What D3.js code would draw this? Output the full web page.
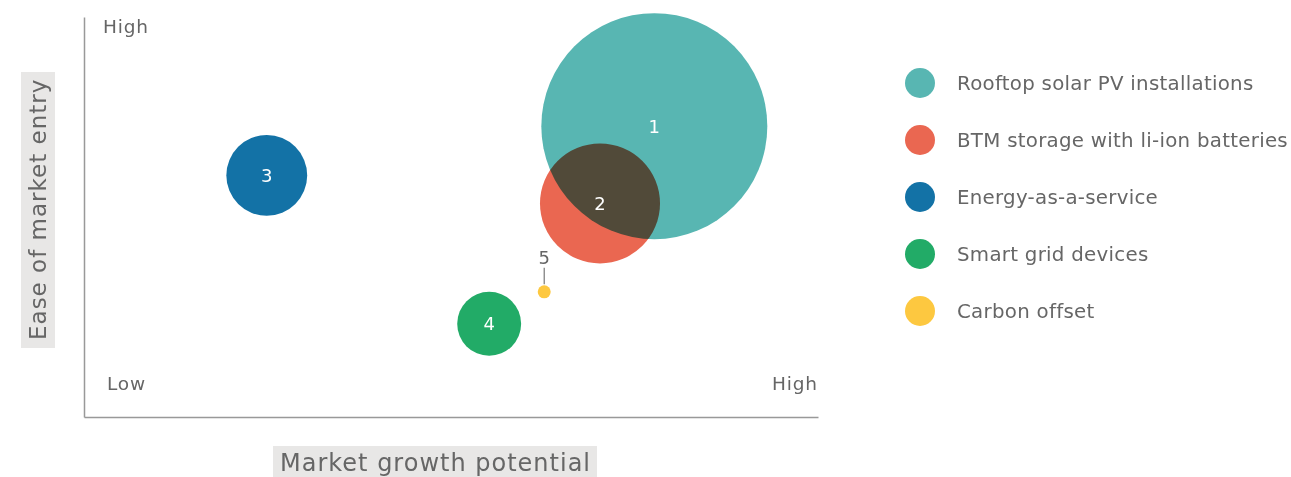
<!DOCTYPE html>
<html>
<head>
<meta charset="utf-8">
<script src="https://cdn.jsdelivr.net/npm/d3@7"></script>
<style>
  html, body { margin: 0; padding: 0; background: #fff; }
  svg { display: block; font-family: "DejaVu Sans", sans-serif; }
  .blend { mix-blend-mode: multiply; }
</style>
</head>
<body>
<svg id="chart" width="1291" height="477"></svg>
<script>
// Market opportunities: growth potential vs ease of entry, bubble = market size
const ids       = ["1", "2", "3", "4", "5"];
const names     = ["Rooftop solar PV installations", "BTM storage with li-ion batteries",
                   "Energy-as-a-service", "Smart grid devices", "Carbon offset"];
const growth    = [77.7, 70.3, 24.9, 55.2, 62.7];   // market growth potential (0–100)
const ease      = [72.7, 53.4, 60.4, 23.3, 31.3];   // ease of market entry (0–100)
const size      = [100, 28.2, 12.8, 8.0, 0.33];     // relative market size
const colors    = ["#58B6B2", "#EA6751", "#1372A6", "#22AB67", "#FDC840"];
const axisEnds  = ["Low", "High"];

const svg = d3.select("#chart");
const textColor = "#666";

const x = d3.scaleLinear().domain([0, 100]).range([84, 818]);
const y = d3.scaleLinear().domain([0, 100]).range([417, 17]);
const r = d3.scaleSqrt().domain([0, 100]).range([0, 113]);

// axes (plain lines, no ticks)
svg.append("g")
  .attr("transform", `translate(0,${y(0)})`)
  .call(d3.axisBottom(x).tickValues([]).tickSizeOuter(0))
  .call(g => g.select(".domain").attr("stroke", "#999").attr("stroke-width", 1.5));
svg.append("g")
  .attr("transform", `translate(${x(0)},0)`)
  .call(d3.axisLeft(y).tickValues([]).tickSizeOuter(0))
  .call(g => g.select(".domain").attr("stroke", "#999").attr("stroke-width", 1.5));

// Low / High corner labels
const cornerStyle = t => t.attr("font-size", 18.5).attr("letter-spacing", 0.8).attr("fill", textColor);
svg.append("text").attr("x", 103).attr("y", 33).call(cornerStyle).text(axisEnds[1]);
svg.append("text").attr("x", 107).attr("y", 390).call(cornerStyle).text(axisEnds[0]);
svg.append("text").attr("x", 772).attr("y", 390).call(cornerStyle).text(axisEnds[1]);

// axis titles on grey tabs
svg.append("rect").attr("x", 273).attr("y", 446).attr("width", 324).attr("height", 31)
  .attr("fill", "#E8E7E6");
svg.append("text").attr("x", 280).attr("y", 471)
  .attr("font-size", 24).attr("letter-spacing", 1).attr("fill", textColor)
  .text("Market growth potential");

svg.append("rect").attr("x", 21).attr("y", 72).attr("width", 34).attr("height", 276)
  .attr("fill", "#E8E7E6");
svg.append("text").attr("transform", "translate(46,340) rotate(-90)")
  .attr("font-size", 23).attr("letter-spacing", 1).attr("fill", textColor)
  .text("Ease of market entry");

// bubbles
const idx = d3.range(ids.length);
const bubbles = svg.append("g");
bubbles.selectAll("circle").data(idx).join("circle")
  .attr("class", "blend")
  .attr("cx", i => x(growth[i]))
  .attr("cy", i => y(ease[i]))
  .attr("r", i => r(size[i]))
  .attr("fill", i => colors[i]);

// in-bubble number labels (all but the small one)
bubbles.selectAll("text.num").data(idx.filter(i => r(size[i]) > 15)).join("text")
  .attr("class", "num")
  .attr("x", i => x(growth[i]))
  .attr("y", i => y(ease[i]))
  .attr("dy", "0.35em")
  .attr("text-anchor", "middle")
  .attr("font-size", 18)
  .attr("fill", "#fff")
  .text(i => ids[i]);

// callout for the small bubble
idx.filter(i => r(size[i]) <= 15).forEach(i => {
  const cx = x(growth[i]), cy = y(ease[i]);
  svg.append("line").attr("x1", cx).attr("x2", cx)
    .attr("y1", cy - r(size[i]) - 1).attr("y2", cy - 24)
    .attr("stroke", "#777").attr("stroke-width", 1.2);
  svg.append("text").attr("x", cx).attr("y", cy - 28).attr("text-anchor", "middle")
    .attr("font-size", 18).attr("fill", textColor).text(ids[i]);
});

// legend
const legend = svg.append("g").attr("transform", "translate(920,83)");
const item = legend.selectAll("g").data(idx).join("g")
  .attr("transform", i => `translate(0,${i * 57})`);
item.append("circle").attr("r", 15).attr("fill", i => colors[i]);
item.append("text").attr("x", 37).attr("dy", "0.35em")
  .attr("font-size", 19.8).attr("letter-spacing", 0.28).attr("fill", textColor)
  .text(i => names[i]);
</script>
</body>
</html>
